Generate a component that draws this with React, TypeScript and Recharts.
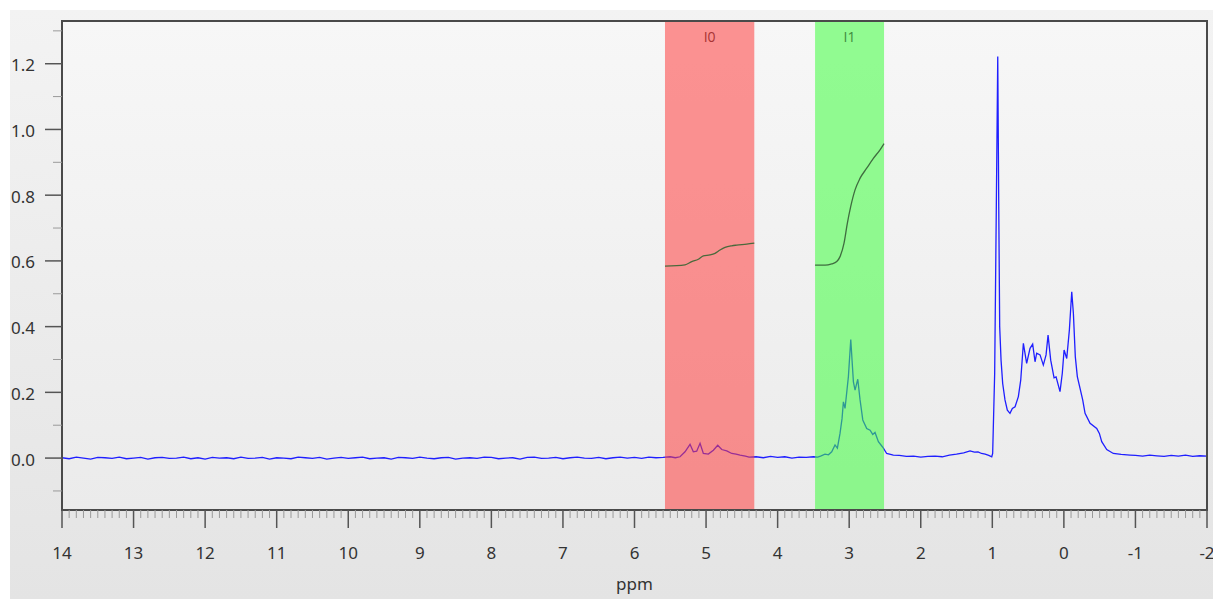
import React from 'react';
import { ComposedChart, Line, XAxis, YAxis, CartesianGrid, ReferenceArea } from 'recharts';

// ---- tick labels ----
const xMajorTicks = [14, 13, 12, 11, 10, 9, 8, 7, 6, 5, 4, 3, 2, 1, 0, -1, -2];
const yMajorTicks = [0.0, 0.2, 0.4, 0.6, 0.8, 1.0, 1.2];
const xMinorTicks = Array.from({ length: 161 }, (_, i) => Math.round((14 - i * 0.1) * 10) / 10);
const yMinorTicks = Array.from({ length: 15 }, (_, i) => Math.round((-0.1 + i * 0.1) * 10) / 10);

// ---- integration regions ----
const regionNames = ['I0', 'I1'];
const regionFrom = [5.574, 3.477];
const regionTo = [4.326, 2.513];

// ---- spectrum (ppm, intensity) ----
const baselineStartPpm = 14.0;
const baselineStepPpm = 0.1;
const baselineLeftValues = [
  0.001, -0.002, 0.003, 0.0, -0.003, 0.002, 0.001, -0.001, 0.003, -0.002,
  0.0, 0.002, -0.003, 0.001, 0.002, -0.001, 0.0, 0.003, -0.002, 0.001,
  -0.003, 0.002, 0.0, 0.001, -0.002, 0.003, -0.001, 0.0, 0.002, -0.003,
  0.001, 0.0, -0.002, 0.003, 0.001, -0.001, 0.002, -0.003, 0.0, 0.002,
  -0.001, 0.001, 0.003, -0.002, 0.0, 0.001, -0.003, 0.002, 0.001, -0.001,
  0.003, 0.0, -0.002, 0.001, 0.002, -0.003, 0.0, 0.001, -0.001, 0.003,
  0.002, -0.002, 0.0, 0.001, -0.003, 0.002, 0.003, -0.001, 0.0, 0.002,
  -0.002, 0.001, 0.003, 0.0, -0.001, 0.002, -0.002, 0.001, 0.003, 0.0,
  0.002, -0.001, 0.003, 0.001,
];
const signalI0: [number, number][] = [
  [5.6, 0.002], [5.5, 0.004], [5.43, 0.001], [5.364, 0.004], [5.294, 0.019],
  [5.224, 0.042], [5.178, 0.019], [5.131, 0.021], [5.084, 0.045], [5.038, 0.014],
  [4.968, 0.012], [4.898, 0.024], [4.837, 0.039], [4.781, 0.026], [4.711, 0.022],
  [4.641, 0.014], [4.58, 0.012], [4.525, 0.009], [4.45, 0.006], [4.4, 0.003],
];
const baselineMid: [number, number][] = [
  [4.3, 0.004], [4.2, 0.001], [4.1, 0.005], [4.0, 0.002], [3.9, 0.004],
  [3.8, 0.0], [3.7, 0.003], [3.6, 0.002], [3.5, 0.004],
];
const signalI1: [number, number][] = [
  [3.44, 0.003], [3.4, 0.006], [3.338, 0.012], [3.29, 0.01], [3.244, 0.019],
  [3.198, 0.04], [3.165, 0.03], [3.128, 0.075], [3.1, 0.12], [3.081, 0.171],
  [3.058, 0.151], [3.011, 0.248], [2.978, 0.361], [2.941, 0.232], [2.918, 0.207],
  [2.88, 0.24], [2.848, 0.177], [2.81, 0.116], [2.755, 0.09], [2.708, 0.085],
  [2.671, 0.072], [2.639, 0.078], [2.592, 0.05], [2.531, 0.033], [2.476, 0.014],
  [2.383, 0.009],
];
const baselineGap: [number, number][] = [
  [2.3, 0.008], [2.2, 0.005], [2.1, 0.006], [2.0, 0.003], [1.9, 0.005],
  [1.8, 0.006], [1.7, 0.004], [1.6, 0.009], [1.5, 0.012], [1.4, 0.016],
  [1.311, 0.022], [1.25, 0.018], [1.2, 0.019], [1.15, 0.014], [1.1, 0.012],
  [1.05, 0.008], [1.008, 0.004],
];
const signalAliphatic: [number, number][] = [
  [0.995, 0.014], [0.967, 0.258], [0.944, 0.765], [0.924, 1.222], [0.91, 0.765],
  [0.897, 0.4], [0.878, 0.298], [0.855, 0.227], [0.823, 0.177], [0.79, 0.146],
  [0.753, 0.136], [0.72, 0.151], [0.682, 0.156], [0.636, 0.187], [0.603, 0.237],
  [0.566, 0.349], [0.52, 0.288], [0.473, 0.334], [0.436, 0.347], [0.403, 0.293],
  [0.38, 0.319], [0.333, 0.314], [0.287, 0.283], [0.249, 0.314], [0.221, 0.374],
  [0.184, 0.298], [0.137, 0.244], [0.109, 0.247], [0.054, 0.202], [0.022, 0.258],
  [-0.003, 0.329], [-0.04, 0.303], [-0.077, 0.39], [-0.11, 0.506], [-0.133, 0.44],
  [-0.16, 0.308], [-0.188, 0.248], [-0.226, 0.212], [-0.263, 0.177], [-0.296, 0.136],
  [-0.366, 0.106], [-0.459, 0.09], [-0.496, 0.075], [-0.529, 0.05], [-0.599, 0.026],
  [-0.691, 0.014], [-0.8, 0.011],
];
const baselineRight: [number, number][] = [
  [-0.925, 0.009], [-1.0, 0.008], [-1.1, 0.006], [-1.2, 0.009], [-1.3, 0.007],
  [-1.4, 0.005], [-1.5, 0.008], [-1.6, 0.006], [-1.7, 0.009], [-1.8, 0.005],
  [-1.9, 0.007], [-2.0, 0.006],
];

// ---- integral curves ----
const integralI0: [number, number][] = [
  [5.574, 0.584], [5.294, 0.588], [5.2, 0.598], [5.108, 0.605], [5.038, 0.615],
  [4.945, 0.618], [4.875, 0.623], [4.805, 0.633], [4.735, 0.641], [4.641, 0.646],
  [4.572, 0.648], [4.432, 0.651], [4.326, 0.654],
];
const integralI1: [number, number][] = [
  [3.477, 0.587], [3.337, 0.587], [3.244, 0.591], [3.174, 0.598], [3.128, 0.613],
  [3.072, 0.654], [3.026, 0.714], [2.979, 0.765], [2.918, 0.816], [2.849, 0.851],
  [2.755, 0.882], [2.662, 0.912], [2.569, 0.938], [2.513, 0.957],
];

const toPoints = (arr: [number, number][]) => arr.map(([ppm, y]) => ({ ppm, y }));

const spectrum = [
  ...baselineLeftValues.map((v, i) => ({
    ppm: Math.round((baselineStartPpm - i * baselineStepPpm) * 100) / 100,
    y: v,
  })),
  ...toPoints(signalI0),
  ...toPoints(baselineMid),
  ...toPoints(signalI1),
  ...toPoints(baselineGap),
  ...toPoints(signalAliphatic),
  ...toPoints(baselineRight),
];

const FONT = '"Noto Sans", "Open Sans", sans-serif';
const LABEL_FONT = '"Open Sans", "Noto Sans", sans-serif';
const Y_MIN = -0.158;
const Y_MAX = 1.33;

const XTick = (props: any) => {
  const { x, y, payload } = props;
  const v = payload.value as number;
  const major = xMajorTicks.some((t) => Math.abs(t - v) < 1e-6);
  return (
    <g>
      <line
        x1={x}
        x2={x}
        y1={y}
        y2={y + (major ? 18 : 8)}
        stroke={major ? '#555' : '#9a9a9a'}
        strokeWidth={major ? 1.5 : 1}
      />
      {major && (
        <text
          x={x}
          y={y + 42}
          textAnchor="middle"
          dominantBaseline="central"
          fontSize={17}
          style={{ fontFamily: FONT }}
          fill="#333"
        >
          {String(Math.round(v))}
        </text>
      )}
    </g>
  );
};

const YTick = (props: any) => {
  const { x, y, payload } = props;
  const v = payload.value as number;
  const major = yMajorTicks.some((t) => Math.abs(t - v) < 1e-6);
  return (
    <g>
      <line
        x1={x - (major ? 17 : 9)}
        x2={x}
        y1={y}
        y2={y}
        stroke={major ? '#555' : '#9a9a9a'}
        strokeWidth={major ? 1.5 : 1}
      />
      {major && (
        <text
          x={x - 27}
          y={y + 1}
          textAnchor="end"
          dominantBaseline="central"
          fontSize={17}
          style={{ fontFamily: FONT }}
          fill="#333"
        >
          {v.toFixed(1)}
        </text>
      )}
    </g>
  );
};

const bandFills = ['rgb(255,60,60)', 'rgb(60,255,60)'];
const bandLabelColors = ['#a83434', '#3d8a3d'];

const makeBandLabel = (name: string, color: string) => (props: any) => {
  const vb = props.viewBox || {};
  const cx = (vb.x ?? 0) + (vb.width ?? 0) / 2;
  const ty = (vb.y ?? 0) + 15;
  return (
    <text
      x={cx}
      y={ty}
      textAnchor="middle"
      dominantBaseline="central"
      fontSize={14}
      style={{ fontFamily: LABEL_FONT }}
      fill={color}
    >
      {name}
    </text>
  );
};

export default function App() {
  return (
    <div
      style={{
        position: 'absolute',
        left: 10,
        top: 10,
        width: 1203,
        height: 589,
        background: 'linear-gradient(#f3f3f3, #e4e4e4)',
        fontFamily: FONT,
      }}
    >
      <ComposedChart
        width={1203}
        height={589}
        margin={{ top: 11, right: 6, bottom: 0, left: 0 }}
        style={{ fontFamily: FONT }}
      >
        <defs>
          <linearGradient id="plotBg" x1="0" y1="0" x2="0" y2="1">
            <stop offset="0%" stopColor="#f7f7f7" />
            <stop offset="100%" stopColor="#ebebeb" />
          </linearGradient>
        </defs>
        <CartesianGrid horizontal={false} vertical={false} fill="url(#plotBg)" />
        <XAxis
          dataKey="ppm"
          type="number"
          domain={[-2, 14]}
          reversed
          allowDataOverflow
          ticks={xMinorTicks}
          interval={0}
          tick={<XTick />}
          tickLine={false}
          tickSize={0}
          tickMargin={0}
          height={89}
          axisLine={{ stroke: '#2a2a2a', strokeWidth: 2 }}
          label={{ value: 'ppm', position: 'insideBottom', offset: 9, fontSize: 17, fill: '#333' }}
        />
        <YAxis
          type="number"
          domain={[Y_MIN, Y_MAX]}
          allowDataOverflow
          ticks={yMinorTicks}
          interval={0}
          tick={<YTick />}
          tickLine={false}
          tickSize={0}
          tickMargin={0}
          width={52}
          axisLine={{ stroke: '#2a2a2a', strokeWidth: 2 }}
        />
        <Line
          data={spectrum}
          dataKey="y"
          type="linear"
          stroke="#1f1fff"
          strokeWidth={1.3}
          dot={false}
          activeDot={false}
          isAnimationActive={false}
        />
        {regionNames.map((name, i) => (
          <ReferenceArea
            key={name}
            x1={regionFrom[i]}
            x2={regionTo[i]}
            y1={Y_MIN}
            y2={Y_MAX}
            fill={bandFills[i]}
            fillOpacity={0.54}
            stroke="none"
            zIndex={450}
            label={makeBandLabel(name, bandLabelColors[i])}
          />
        ))}
        <Line
          data={toPoints(integralI0)}
          dataKey="y"
          type="monotone"
          stroke="#4a6a3c"
          strokeWidth={1.3}
          dot={false}
          activeDot={false}
          isAnimationActive={false}
          zIndex={600}
        />
        <Line
          data={toPoints(integralI1)}
          dataKey="y"
          type="monotone"
          stroke="#3f6d3f"
          strokeWidth={1.3}
          dot={false}
          activeDot={false}
          isAnimationActive={false}
          zIndex={600}
        />
        <ReferenceArea
          x1={14}
          x2={-2}
          y1={Y_MIN}
          y2={Y_MAX}
          fill="none"
          stroke="#4a4a4a"
          strokeWidth={2}
          ifOverflow="visible"
          zIndex={700}
        />
      </ComposedChart>
    </div>
  );
}
